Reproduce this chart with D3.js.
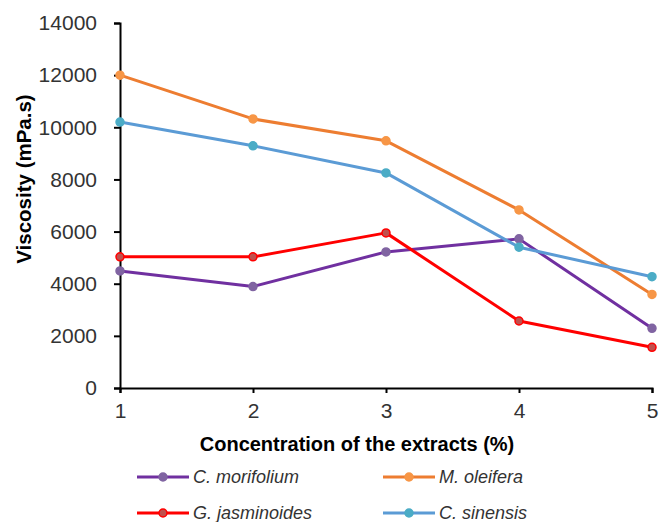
<!DOCTYPE html>
<html><head><meta charset="utf-8">
<script src="https://cdn.jsdelivr.net/npm/d3@7"></script>
<style>body{margin:0;background:#fff}svg{display:block}</style>
</head><body>
<svg id="c" width="659" height="522"></svg>
<script>
const concentrations = [1, 2, 3, 4, 5];
const cMorifolium = [4490, 3890, 5220, 5720, 2290];
const mOleifera = [12000, 10320, 9480, 6830, 3590];
const gJasminoides = [5030, 5030, 5950, 2570, 1560];
const cSinensis = [10200, 9290, 8250, 5400, 4270];
const yTicks = [0, 2000, 4000, 6000, 8000, 10000, 12000, 14000];
const seriesNames = ["C. morifolium", "M. oleifera", "G. jasminoides", "C. sinensis"];

const series = [
  {name: seriesNames[0], values: cMorifolium, line: "#7030A0", fill: "#8064A2", stroke: "#8064A2"},
  {name: seriesNames[1], values: mOleifera, line: "#ED7D31", fill: "#F79646", stroke: "#F79646"},
  {name: seriesNames[2], values: gJasminoides, line: "#FF0000", fill: "#C0504D", stroke: "#FF0000"},
  {name: seriesNames[3], values: cSinensis, line: "#5B9BD5", fill: "#4BACC6", stroke: "#4BACC6"}
];

const svg = d3.select("#c");
const x = d3.scaleLinear().domain([1, 5]).range([120, 652]);
const y = d3.scaleLinear().domain([0, 14000]).range([388, 23]);

const font = "Liberation Sans, Arial, sans-serif";

// axes
const yAxis = svg.append("g").attr("transform", "translate(120,0)")
  .call(d3.axisLeft(y).tickValues(yTicks).tickSize(6).tickPadding(17).tickFormat(d3.format("d")));
const xAxis = svg.append("g").attr("transform", "translate(0,388)")
  .call(d3.axisBottom(x).tickValues(concentrations).tickSize(5).tickPadding(8).tickFormat(d3.format("d")));
[yAxis, xAxis].forEach(a => {
  a.select(".domain").attr("stroke", "#000").attr("stroke-width", 2);
  a.selectAll(".tick line").attr("stroke", "#000").attr("stroke-width", 2);
  a.selectAll(".tick text").attr("font-family", font).attr("font-size", 21).attr("fill", "#333");
});
xAxis.selectAll(".tick text").attr("dy", "0.8em");

// titles
svg.append("text").attr("x", 357).attr("y", 451).attr("text-anchor", "middle")
  .attr("font-family", font).attr("font-weight", "bold").attr("font-size", 20).attr("fill", "#000")
  .text("Concentration of the extracts (%)");
svg.append("text").attr("transform", "translate(31,179) rotate(-90)").attr("text-anchor", "middle")
  .attr("font-family", font).attr("font-weight", "bold").attr("font-size", 20.5).attr("fill", "#000")
  .text("Viscosity  (mPa.s)");

// lines
const line = d3.line().x((d, i) => x(concentrations[i])).y(d => y(d));
series.forEach(s => {
  svg.append("path").attr("d", line(s.values)).attr("fill", "none")
    .attr("stroke", s.line).attr("stroke-width", 3).attr("stroke-linejoin", "round");
  svg.selectAll(null).data(s.values).enter().append("circle")
    .attr("cx", (d, i) => x(concentrations[i])).attr("cy", d => y(d)).attr("r", 4)
    .attr("fill", s.fill).attr("stroke", s.stroke).attr("stroke-width", 1.5);
});

// legend
const legendPos = [[137, 477], [383, 477], [137, 513], [383, 513]];
series.forEach((s, i) => {
  const [lx, ly] = legendPos[i];
  const g = svg.append("g").attr("transform", `translate(${lx},${ly})`);
  g.append("line").attr("x1", 0).attr("x2", 52).attr("y1", 0).attr("y2", 0)
    .attr("stroke", s.line).attr("stroke-width", 3);
  g.append("circle").attr("cx", 26).attr("cy", 0).attr("r", 4)
    .attr("fill", s.fill).attr("stroke", s.stroke).attr("stroke-width", 1.5);
  g.append("text").attr("x", 56).attr("y", 0).attr("dy", "0.35em")
    .attr("font-family", font).attr("font-style", "italic").attr("font-size", 18).attr("fill", "#333")
    .text(s.name);
});
</script>
</body></html>
